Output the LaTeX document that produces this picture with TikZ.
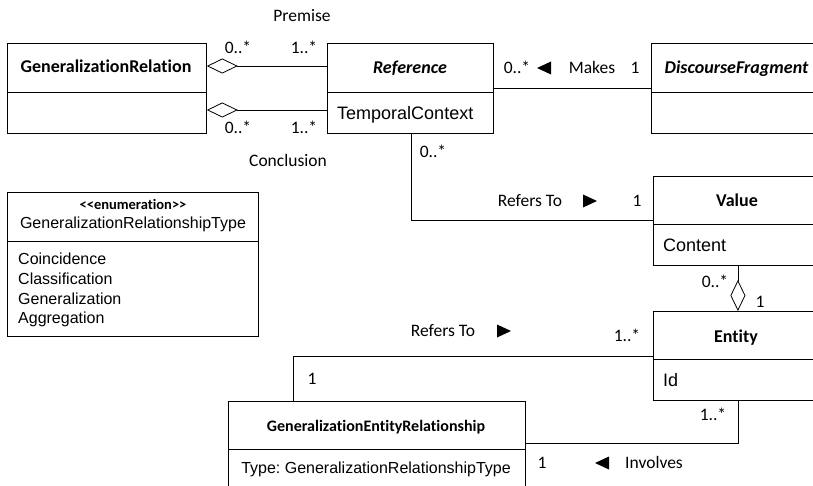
\documentclass[tikz,border=0pt]{standalone}
\usepackage{fontspec}
\setmainfont{Carlito}[Ligatures={NoCommon}]
\newfontfamily\arial{Liberation Sans}
\usetikzlibrary{arrows.meta,calc}
\frenchspacing

\begin{document}
\begin{tikzpicture}[x=1pt,y=-1pt,
  umlbox/.style={draw, line width=0.8pt, rectangle, inner sep=0pt, anchor=north west},
  conn/.style={line width=0.8pt},
  agg/.style={conn, -{Diamond[open,length=31pt,width=15pt,line width=0.8pt]}},
  lbl/.style={font=\fontsize{17.5}{20}\selectfont, inner sep=0pt, text height=12pt, text depth=1pt},
  title/.style={font=\fontsize{18}{21}\selectfont\bfseries, inner sep=0pt, text height=12pt, text depth=0pt},
  ititle/.style={title, font=\fontsize{18}{21}\selectfont\bfseries\itshape},
  attr/.style={font=\arial\fontsize{18}{21}\selectfont, inner sep=0pt, anchor=west, text height=13pt, text depth=0pt},
  sattr/.style={font=\arial\fontsize{16}{19}\selectfont, inner sep=0pt, text height=11.5pt, text depth=0pt},
  rtri/.pic={\fill (7,0) -- (-7,-6.5) -- (-7,6.5) -- cycle;},
  ltri/.pic={\fill (-7,0) -- (7,-6.5) -- (7,6.5) -- cycle;}
]
\useasboundingbox (0,0) rectangle (813,486);
\clip (0,0) rectangle (813,486);

% class boxes
\node[umlbox, minimum width=199pt, minimum height=90pt] (gr)  at (7,43) {};
\node[umlbox, minimum width=166pt, minimum height=90pt] (ref) at (327,43) {};
\node[umlbox, minimum width=171pt, minimum height=90pt] (df)  at (651,43) {};
\node[umlbox, minimum width=251pt, minimum height=144pt] (enum) at (7,192) {};
\node[umlbox, minimum width=169pt, minimum height=89pt] (val) at (653,176) {};
\node[umlbox, minimum width=169pt, minimum height=89pt] (ent) at (653,311) {};
\node[umlbox, minimum width=297pt, minimum height=100pt] (ger) at (228,401) {};

% compartment dividers
\draw[conn] ($(gr.north west)+(0,49)$) -- ($(gr.north east)+(0,49)$);
\draw[conn] ($(ref.north west)+(0,49)$) -- ($(ref.north east)+(0,49)$);
\draw[conn] ($(df.north west)+(0,49)$) -- ($(df.north east)+(0,49)$);
\draw[conn] ($(enum.north west)+(0,49)$) -- ($(enum.north east)+(0,49)$);
\draw[conn] ($(val.north west)+(0,48)$) -- ($(val.north east)+(0,48)$);
\draw[conn] ($(ent.north west)+(0,48)$) -- ($(ent.north east)+(0,48)$);
\draw[conn] ($(ger.north west)+(0,48)$) -- ($(ger.north east)+(0,48)$);

% class names and attributes
\node[title] (grname) at (106,67) {GeneralizationRelation};
\node[ititle] (refname) at (410,68) {Reference};
\node[attr] (refattr) at (337,113) {TemporalContext};
\node[ititle] (dfname) at (736.5,68) {DiscourseFragment};
\node[title, font=\fontsize{14.5}{17}\selectfont\bfseries, text height=10pt] (enumst) at (133,205) {<{}<enumeration>{}>};
\node[sattr] (enumname) at (133,223) {GeneralizationRelationshipType};
\node[sattr, anchor=west] (e1) at (18,259) {Coincidence};
\node[sattr, anchor=west] (e2) at (18,279) {Classification};
\node[sattr, anchor=west] (e3) at (18,299) {Generalization};
\node[sattr, anchor=west] (e4) at (18,318) {Aggregation};
\node[title] (valname) at (737,201) {Value};
\node[attr] (valattr) at (663,245) {Content};
\node[title] (entname) at (736,336) {Entity};
\node[attr] (entattr) at (663,380) {Id};
\node[title, font=\fontsize{16}{19}\selectfont\bfseries, text height=11pt] (gername) at (376,426) {GeneralizationEntityRelationship};
\node[sattr] (gerattr) at (376,468) {Type: GeneralizationRelationshipType};

% routing levels
\coordinate (yP) at (0,66);
\coordinate (yC) at (0,110);
\coordinate (yM) at (0,88);
\coordinate (yR) at (0,220);
\coordinate (yE) at (0,356);
\coordinate (yI) at (0,443);
\coordinate (xR) at (411,0);
\coordinate (xL) at (293,0);

% associations
\draw[agg] (ref.west |- yP) -- (gr.east |- yP);
\draw[agg] (ref.west |- yC) -- (gr.east |- yC);
\draw[conn] (ref.east |- yM) -- (df.west |- yM);
\draw[conn] (ref.south -| xR) |- (val.west |- yR);
\draw[agg] (val.south) -- (ent.north);
\draw[conn] (ger.north -| xL) |- (ent.west |- yE);
\draw[conn] (ger.east |- yI) -| (ent.south);

% association labels
\node[lbl] (lpremise) at (302,16) {Premise};
\node[lbl] (lp0) at (238,48) {0..*};
\node[lbl] (lp1) at (304,48) {1..*};
\node[lbl] (lc0) at (238,128) {0..*};
\node[lbl] (lc1) at (304,128) {1..*};
\node[lbl] (lconcl) at (288,161) {Conclusion};
\node[lbl] (lm0) at (517,68) {0..*};
\pic at (544,68) {ltri};
\node[lbl] (lmakes) at (592,68) {Makes};
\node[lbl] (lm1) at (635,68) {1};
\node[lbl] (lr0) at (433,152) {0..*};
\node[lbl] (lrefers) at (530,201) {Refers To};
\pic at (590,201) {rtri};
\node[lbl] (lr1) at (637,201) {1};
\node[lbl] (lv0) at (715,282) {0..*};
\node[lbl] (lv1) at (760,302) {1};
\node[lbl] (lrefers2) at (443,331) {Refers To};
\pic at (504,331) {rtri};
\node[lbl] (le1) at (627,336) {1..*};
\node[lbl] (lg1) at (312,379) {1};
\node[lbl] (li0) at (713,415) {1..*};
\node[lbl] (li1) at (542,463) {1};
\pic at (602,463) {ltri};
\node[lbl] (linv) at (654,463) {Involves};
\end{tikzpicture}
\end{document}
